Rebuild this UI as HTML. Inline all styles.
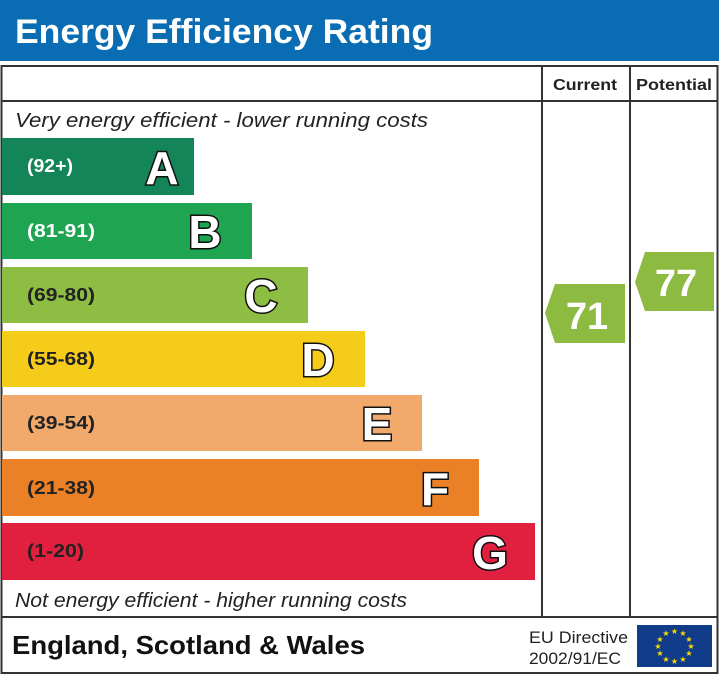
<!DOCTYPE html>
<html><head><style>body{margin:0;background:#fff}svg{display:block}</style></head><body>
<svg width="719" height="675" viewBox="0 0 719 675" xmlns="http://www.w3.org/2000/svg" font-family="Liberation Sans, Arial, sans-serif">
<rect x="0" y="0" width="719" height="61" fill="#0a6db3"/>
<text x="15" y="43" font-size="34" font-weight="bold" fill="#fff" textLength="418" lengthAdjust="spacingAndGlyphs">Energy Efficiency Rating</text>
<rect x="1.5" y="66" width="716" height="607" fill="#fff" stroke="#333" stroke-width="2"/>
<line x1="1" y1="101" x2="718" y2="101" stroke="#333" stroke-width="2"/>
<line x1="1" y1="617" x2="718" y2="617" stroke="#333" stroke-width="2"/>
<line x1="542" y1="66" x2="542" y2="617" stroke="#333" stroke-width="2"/>
<line x1="630" y1="66" x2="630" y2="617" stroke="#333" stroke-width="2"/>
<text x="553" y="90" font-size="16" font-weight="bold" fill="#222" textLength="64" lengthAdjust="spacingAndGlyphs">Current</text>
<text x="636" y="90" font-size="16" font-weight="bold" fill="#222" textLength="76" lengthAdjust="spacingAndGlyphs">Potential</text>
<text x="15" y="127" font-size="20" font-style="italic" fill="#222" textLength="413" lengthAdjust="spacingAndGlyphs">Very energy efficient - lower running costs</text>
<text x="15" y="607" font-size="20" font-style="italic" fill="#222" textLength="392" lengthAdjust="spacingAndGlyphs">Not energy efficient - higher running costs</text>
<g font-size="18" font-weight="bold">
<rect x="2" y="138" width="192" height="57" fill="#138559"/>
<text x="27" y="172" fill="#fff" textLength="46" lengthAdjust="spacingAndGlyphs">(92+)</text>
<rect x="2" y="203" width="250" height="56" fill="#1fa552"/>
<text x="27" y="237" fill="#fff" textLength="68" lengthAdjust="spacingAndGlyphs">(81-91)</text>
<rect x="2" y="267" width="306" height="56" fill="#8dbd43"/>
<text x="27" y="301" fill="#222" textLength="68" lengthAdjust="spacingAndGlyphs">(69-80)</text>
<rect x="2" y="331" width="363" height="56" fill="#f6cc1b"/>
<text x="27" y="365" fill="#222" textLength="68" lengthAdjust="spacingAndGlyphs">(55-68)</text>
<rect x="2" y="395" width="420" height="56" fill="#f2aa6c"/>
<text x="27" y="429" fill="#222" textLength="68" lengthAdjust="spacingAndGlyphs">(39-54)</text>
<rect x="2" y="459" width="477" height="57" fill="#eb8126"/>
<text x="27" y="494" fill="#222" textLength="68" lengthAdjust="spacingAndGlyphs">(21-38)</text>
<rect x="2" y="523" width="533" height="57" fill="#e0203e"/>
<text x="27" y="557" fill="#222" textLength="57" lengthAdjust="spacingAndGlyphs">(1-20)</text>
</g>
<g font-size="46" font-weight="bold" fill="#fff" stroke="#111" stroke-width="3" paint-order="stroke" text-anchor="middle">
<text x="162" y="184">A</text>
<text x="205" y="248">B</text>
<text x="261" y="312">C</text>
<text x="318" y="376">D</text>
<text x="377" y="440">E</text>
<text x="435" y="505">F</text>
<text x="490" y="569">G</text>
</g>
<polygon points="555,284 625,284 625,343 555,343 545,313" fill="#8dbb42"/>
<text x="587" y="329" font-size="38" font-weight="bold" fill="#fff" text-anchor="middle">71</text>
<polygon points="645,252 714,252 714,311 645,311 635,282" fill="#8dbb42"/>
<text x="676" y="296" font-size="38" font-weight="bold" fill="#fff" text-anchor="middle">77</text>
<text x="12" y="654" font-size="26" font-weight="bold" fill="#111" textLength="353" lengthAdjust="spacingAndGlyphs">England, Scotland &amp; Wales</text>
<text x="529" y="643" font-size="17" fill="#222" textLength="99" lengthAdjust="spacingAndGlyphs">EU Directive</text>
<text x="529" y="664" font-size="17" fill="#222" textLength="92" lengthAdjust="spacingAndGlyphs">2002/91/EC</text>
<rect x="637" y="625" width="75" height="42" fill="#103c8a"/>
<g fill="#ffdd00" font-size="8" text-anchor="middle">
<text x="674.5" y="634">★</text><text x="683" y="636">★</text><text x="689" y="642">★</text><text x="691" y="649">★</text><text x="689" y="656">★</text><text x="683" y="662">★</text><text x="674.5" y="664">★</text><text x="666" y="662">★</text><text x="660" y="656">★</text><text x="658" y="649">★</text><text x="660" y="642">★</text><text x="666" y="636">★</text>
</g>
</svg>
</body></html>
